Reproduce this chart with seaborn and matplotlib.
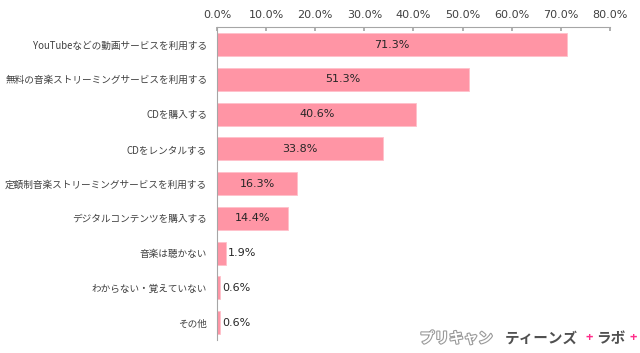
import numpy as np
import pandas as pd
import matplotlib
matplotlib.use("Agg")
import matplotlib.pyplot as plt
import matplotlib.patheffects as pe
import seaborn as sns

categories = [
    "YouTubeなどの動画サービスを利用する",
    "無料の音楽ストリーミングサービスを利用する",
    "CDを購入する",
    "CDをレンタルする",
    "定額制音楽ストリーミングサービスを利用する",
    "デジタルコンテンツを購入する",
    "音楽は聴かない",
    "わからない・覚えていない",
    "その他",
]
values = [71.3, 51.3, 40.6, 33.8, 16.3, 14.4, 1.9, 0.6, 0.6]
x_ticks = [0, 10, 20, 30, 40, 50, 60, 70, 80]

sns.set_theme(style="white")
plt.rcParams['font.family'] = ['Noto Sans CJK JP', 'DejaVu Sans']

df = pd.DataFrame({"item": categories, "pct": values})

fig = plt.figure(figsize=(6.4, 3.53), dpi=100)
ax = fig.add_axes([0.339, 0.037, 0.614, 0.886])

bar_color = "#FF95A5"
sns.barplot(data=df, x="pct", y="item", color=bar_color, width=0.66,
            saturation=1, edgecolor="#FFC0CA", linewidth=0.6, ax=ax)

ax.set_xlim(0, 80)
ax.set_ylim(len(categories) - 0.5, -0.5)
ax.set_xlabel("")
ax.set_ylabel("")

ax.xaxis.tick_top()
ax.set_xticks(x_ticks)
ax.set_xticklabels([f"{t:.1f}%" for t in x_ticks], family=['DejaVu Sans'])
ax.tick_params(axis="x", which="major", direction="in", length=3, color="#A6A6A6",
               labelsize=8, labelcolor="#404040", pad=5)

# category labels with boundary ticks like Excel
ax.set_yticks(range(len(categories)))
ax.set_yticklabels(categories)
ax.tick_params(axis="y", which="major", length=0, labelsize=6.95, labelcolor="#404040", pad=7)
ax.set_yticks(np.arange(-0.5, len(categories) + 0.5, 1), minor=True)
ax.tick_params(axis="y", which="minor", direction="out", length=3, color="#A6A6A6")

for s in ["right", "bottom"]:
    ax.spines[s].set_visible(False)
for s in ["left", "top"]:
    ax.spines[s].set_color("#A6A6A6")
    ax.spines[s].set_linewidth(0.8)

for i, v in enumerate(values):
    if v > 10:
        ax.text(v / 2, i, f"{v:.1f}%", ha="center", va="center", fontsize=8,
                color="#262626", family=['DejaVu Sans'])
    else:
        ax.text(v + 0.4, i, f"{v:.1f}%", ha="left", va="center", fontsize=8,
                color="#262626", family=['DejaVu Sans'])

# watermark
wy = 0.043
fig.text(0.656, wy, "プリキャン", fontsize=10.5, color="white", ha="left", va="center",
         fontweight="bold", path_effects=[pe.withStroke(linewidth=1.6, foreground="#9A9A9A")])
fig.text(0.789, wy, "ティーンズ", fontsize=10.5, color="#505050", ha="left", va="center",
         fontweight="bold")
fig.text(0.921, wy, "+", fontsize=9, color="#FF2D8A", ha="center", va="center", fontweight="bold")
fig.text(0.932, wy, "ラボ", fontsize=10.5, color="#505050", ha="left", va="center", fontweight="bold")
fig.text(0.99, wy, "+", fontsize=9, color="#FF2D8A", ha="center", va="center", fontweight="bold")

fig.savefig("out.png", dpi=100)
